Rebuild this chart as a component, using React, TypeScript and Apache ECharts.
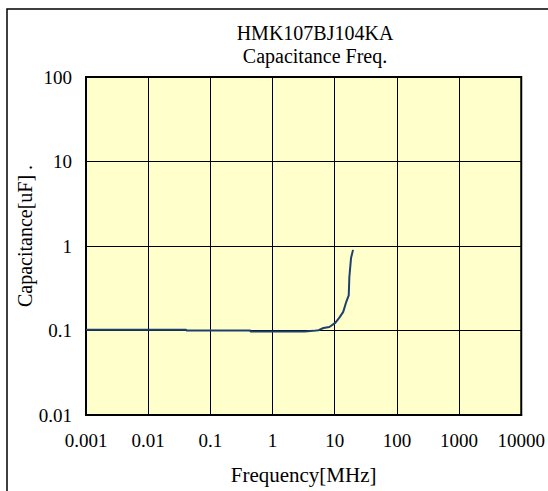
import React, { useEffect, useRef } from "react";
import * as echarts from "echarts";

const titleLines = ["HMK107BJ104KA", "Capacitance Freq."];
const yAxisTitle = "Capacitance[uF] .";
const xAxisTitle = "Frequency[MHz]";
const xTickLabels = ["0.001", "0.01", "0.1", "1", "10", "100", "1000", "10000"];
const yTickLabels = ["0.01", "0.1", "1", "10", "100"];
const freqMHz = [0.001, 0.041, 0.041, 0.44, 0.44, 3.3, 3.3, 4.5, 5.5, 6.6, 8.2, 10.2, 11.8, 13.7, 15.3, 16.8, 17.2, 17.6, 18.3, 19.7];
const capUF = [0.102, 0.102, 0.1, 0.1, 0.097, 0.097, 0.098, 0.099, 0.101, 0.107, 0.11, 0.123, 0.141, 0.166, 0.217, 0.26, 0.43, 0.52, 0.72, 0.9];

const FONT = "'Liberation Serif', 'Times New Roman', serif";

export default function App() {
  const ref = useRef<HTMLDivElement>(null);
  useEffect(() => {
    document.body.style.margin = "0";
    const chart = echarts.init(ref.current!, null, { renderer: "svg" });
    const lbl = (labels: string[], minExp: number) => (v: number) => {
      const e = Math.round(Math.log10(v));
      return labels[e - minExp] ?? "";
    };
    chart.setOption({
      animation: false,
      backgroundColor: "#ffffff",
      title: {
        text: titleLines.join("\n"),
        left: 310,
        top: 16,
        textAlign: "center",
        textStyle: { fontFamily: FONT, fontSize: 20, fontWeight: "normal", color: "#000", lineHeight: 23 },
      },
      grid: {
        left: 86,
        top: 77,
        right: 20,
        bottom: 76,
        show: true,
        backgroundColor: "#FFFFCC",
        borderColor: "#000",
        borderWidth: 2,
      },
      xAxis: {
        type: "log",
        logBase: 10,
        min: 0.001,
        max: 10000,
        name: xAxisTitle,
        nameLocation: "middle",
        nameGap: 49,
        nameTextStyle: { fontFamily: FONT, fontSize: 21, color: "#000" },
        axisLine: { show: true, lineStyle: { color: "#000", width: 2 } },
        axisTick: { show: false },
        minorTick: { show: false },
        splitLine: { show: true, lineStyle: { color: "#000", width: 1 } },
        axisLabel: {
          formatter: lbl(xTickLabels, -3),
          fontFamily: FONT,
          fontSize: 19,
          color: "#000",
          margin: 16,
          showMaxLabel: true,
          showMinLabel: true,
        },
      },
      yAxis: {
        type: "log",
        logBase: 10,
        min: 0.01,
        max: 100,
        axisLine: { show: true, lineStyle: { color: "#000", width: 2 } },
        axisTick: { show: false },
        splitLine: { show: true, lineStyle: { color: "#000", width: 1 } },
        axisLabel: {
          formatter: lbl(yTickLabels, -2),
          fontFamily: FONT,
          fontSize: 19,
          color: "#000",
          margin: 14,
        },
      },
      graphic: [
        {
          type: "rect",
          shape: { x: 7, y: 9, width: 700, height: 700 },
          style: { fill: "none", stroke: "#000", lineWidth: 1.5 },
          silent: true,
        },
        {
          type: "text",
          x: 25,
          y: 236,
          rotation: Math.PI / 2,
          silent: true,
          style: {
            text: yAxisTitle,
            fill: "#000",
            font: "20px " + FONT,
            align: "center",
            verticalAlign: "middle",
          },
        },
      ],
      series: [
        {
          type: "line",
          data: freqMHz.map((f, i) => [f, capUF[i]]),
          showSymbol: false,
          symbol: "none",
          lineStyle: { color: "#1F3F6F", width: 2 },
          clip: true,
        },
      ],
    });
    return () => chart.dispose();
  }, []);
  return <div ref={ref} style={{ width: 548, height: 491 }} />;
}
